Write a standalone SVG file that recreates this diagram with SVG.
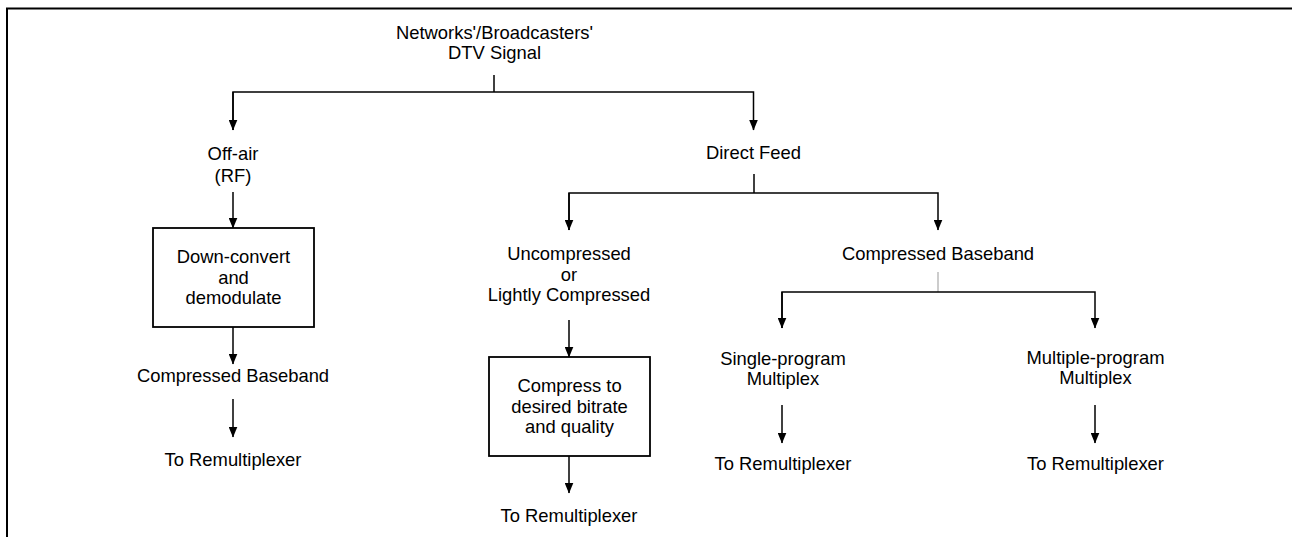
<svg xmlns="http://www.w3.org/2000/svg" width="1292" height="537" viewBox="0 0 1292 537">
<style>
text{font-family:"Liberation Sans",Arial,sans-serif;font-size:18.4px;fill:#000;text-anchor:middle}
.ln{stroke:#000;stroke-width:1.5;fill:none}
.gr{stroke:#999;stroke-width:1;fill:none}
.box{stroke:#000;stroke-width:1.8;fill:#fff}
.fr{stroke:#000;stroke-width:2;fill:none}
</style>
<defs>
<marker id="ah" viewBox="0 0 11 9" markerWidth="11" markerHeight="9" refX="10.5" refY="4.5" orient="auto" markerUnits="userSpaceOnUse">
<path d="M0,0 L11,4.5 L0,9 z" fill="#000"/>
</marker>
</defs>
<path class="fr" d="M7,537 V8.5 H1292"/>
<g id="connectors">
<path class="ln" d="M494,75 V92"/>
<path class="ln" d="M233,130 V92 H753.5 V130" marker-end="url(#ah)"/>
<path class="ln" d="M233,92 V130" marker-end="url(#ah)"/>
<path class="ln" d="M233,192 V228" marker-end="url(#ah)"/>
<path class="ln" d="M233,327 V364" marker-end="url(#ah)"/>
<path class="ln" d="M233,399 V437" marker-end="url(#ah)"/>
<path class="ln" d="M754,174 V193"/>
<path class="ln" d="M569,230 V193 H938 V230" marker-end="url(#ah)"/>
<path class="ln" d="M569,193 V230" marker-end="url(#ah)"/>
<path class="ln" d="M569,320 V357" marker-end="url(#ah)"/>
<path class="ln" d="M569,456 V493" marker-end="url(#ah)"/>
<path class="gr" d="M938,272 V292"/>
<path class="ln" d="M782,328 V292 H1095 V328" marker-end="url(#ah)"/>
<path class="ln" d="M782,292 V328" marker-end="url(#ah)"/>
<path class="ln" d="M782,405 V443" marker-end="url(#ah)"/>
<path class="ln" d="M1095,405 V443" marker-end="url(#ah)"/>
</g>
<g id="source"><text x="494.5" y="38.5">Networks'/Broadcasters'</text><text x="494.5" y="59">DTV Signal</text></g>
<g id="offair"><text x="233" y="160">Off-air</text><text x="233" y="182">(RF)</text></g>
<g id="downconvert"><rect class="box" x="153" y="228" width="161" height="99"/><text x="233.5" y="263">Down-convert</text><text x="233.5" y="283.5">and</text><text x="233.5" y="304">demodulate</text></g>
<g id="cb-left"><text x="233" y="382">Compressed Baseband</text></g>
<g id="remux-left"><text x="233" y="466">To Remultiplexer</text></g>
<g id="directfeed"><text x="753.5" y="159">Direct Feed</text></g>
<g id="uncompressed"><text x="569" y="260">Uncompressed</text><text x="569" y="280.5">or</text><text x="569" y="301">Lightly Compressed</text></g>
<g id="compress"><rect class="box" x="489" y="357" width="161" height="99"/><text x="569.5" y="392">Compress to</text><text x="569.5" y="412.5">desired bitrate</text><text x="569.5" y="433">and quality</text></g>
<g id="remux-mid"><text x="569" y="522">To Remultiplexer</text></g>
<g id="cb-right"><text x="938" y="260">Compressed Baseband</text></g>
<g id="single"><text x="783" y="365">Single-program</text><text x="783" y="385">Multiplex</text></g>
<g id="remux-single"><text x="783" y="470">To Remultiplexer</text></g>
<g id="multiple"><text x="1095.5" y="364">Multiple-program</text><text x="1095.5" y="384">Multiplex</text></g>
<g id="remux-multiple"><text x="1095.5" y="470">To Remultiplexer</text></g>
</svg>
